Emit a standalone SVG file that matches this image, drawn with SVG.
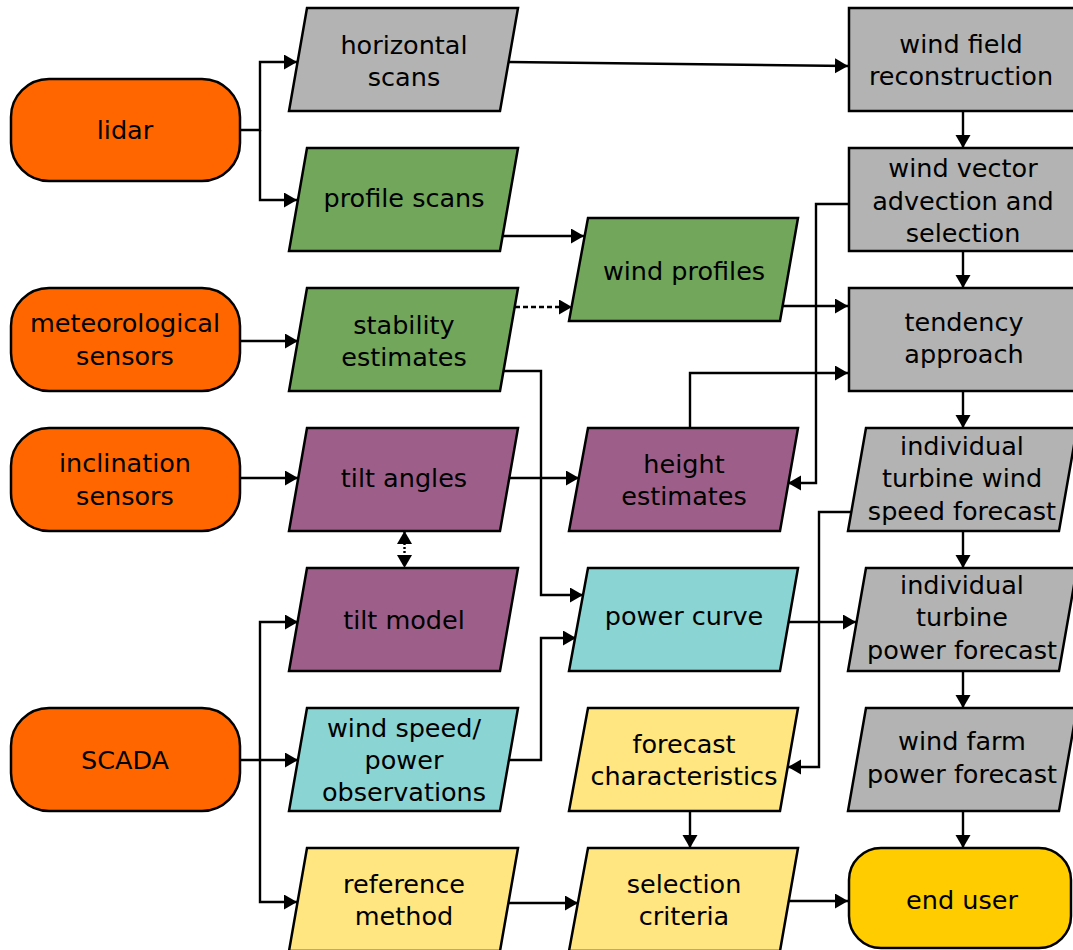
<svg xmlns="http://www.w3.org/2000/svg" width="1073" height="950" viewBox="0 0 1073 950">
<defs>
<marker id="ah" markerUnits="userSpaceOnUse" markerWidth="14" markerHeight="16" refX="13" refY="7.5" orient="auto-start-reverse" viewBox="0 0 14 16">
<path d="M0,0 L13,7.5 L0,15 z" fill="#000"/>
</marker>
<style>
.n{stroke:#000;stroke-width:2.5;stroke-linejoin:miter}
.src{fill:#FF6600}
.gray{fill:#B3B3B3}
.green{fill:#71A65B}
.purple{fill:#9D5F8A}
.cyan{fill:#8AD4D3}
.yellow{fill:#FFE680}
.gold{fill:#FFCC00}
text{font-family:"DejaVu Sans","Verdana",sans-serif;font-size:25.5px;fill:#000;text-anchor:middle}
.c path,.c polyline,.c line{fill:none;stroke:#000;stroke-width:2.4;marker-end:url(#ah)}
</style>
</defs>
<g id="connectors" class="c">
<polyline points="240,130 260,130 260,62 297,62"/>
<polyline points="260,130 260,200 297,200" />
<line x1="509" y1="62" x2="848" y2="66"/>
<line x1="963" y1="111" x2="963" y2="148"/>
<line x1="502" y1="236" x2="584" y2="236"/>
<line x1="515" y1="307" x2="572" y2="307" stroke-dasharray="5,3"/>
<line x1="782" y1="306" x2="848" y2="306"/>
<polyline points="848,204 816,204 816,483 788,483"/>
<line x1="963" y1="251" x2="963" y2="288"/>
<polyline points="690,428 690,373 848,373"/>
<line x1="509" y1="478" x2="579" y2="478"/>
<polyline points="503,371 541,371 541,595 583,595"/>
<line x1="240" y1="341" x2="298" y2="341"/>
<line x1="240" y1="478" x2="298" y2="478"/>
<line x1="404.5" y1="531" x2="404.5" y2="568" stroke-dasharray="2,2" style="marker-start:url(#ah)"/>
<polyline points="240,760 260,760 260,622 298,622"/>
<line x1="260" y1="760" x2="298" y2="760"/>
<polyline points="260,760 260,902 297,902"/>
<polyline points="508,760 541,760 541,638 576,638"/>
<line x1="788" y1="622" x2="856" y2="622"/>
<polyline points="851,512 819,512 819,767 788,767"/>
<line x1="963" y1="391" x2="963" y2="428"/>
<line x1="963" y1="531" x2="963" y2="568"/>
<line x1="963" y1="671" x2="963" y2="708"/>
<line x1="963" y1="811" x2="963" y2="848"/>
<line x1="690" y1="811" x2="690" y2="848"/>
<line x1="509" y1="903" x2="578" y2="903"/>
<line x1="788" y1="901" x2="848" y2="901"/>
</g>
<g id="lidar"><rect class="n src" x="11" y="79" width="229" height="102" rx="38"/><text x="125" y="139">lidar</text></g>
<g id="meteorological-sensors"><rect class="n src" x="11" y="288" width="229" height="103" rx="38"/><text x="125" y="332">meteorological</text><text x="125" y="365">sensors</text></g>
<g id="inclination-sensors"><rect class="n src" x="11" y="428" width="229" height="103" rx="38"/><text x="125" y="472">inclination</text><text x="125" y="505">sensors</text></g>
<g id="scada"><rect class="n src" x="11" y="708" width="229" height="103" rx="38"/><text x="125" y="769">SCADA</text></g>

<g id="horizontal-scans"><polygon class="n gray" points="307,8 518,8 500,111 289,111"/><text x="404" y="54">horizontal</text><text x="404" y="86">scans</text></g>
<g id="profile-scans"><polygon class="n green" points="307,148 518,148 500,251 289,251"/><text x="404" y="207">profile scans</text></g>
<g id="stability-estimates"><polygon class="n green" points="307,288 518,288 500,391 289,391"/><text x="404" y="334">stability</text><text x="404" y="366">estimates</text></g>
<g id="tilt-angles"><polygon class="n purple" points="307,428 518,428 500,531 289,531"/><text x="404" y="487">tilt angles</text></g>
<g id="tilt-model"><polygon class="n purple" points="307,568 518,568 500,671 289,671"/><text x="404" y="629">tilt model</text></g>
<g id="wind-speed-power-observations"><polygon class="n cyan" points="307,708 518,708 500,811 289,811"/><text x="404" y="737">wind speed/</text><text x="404" y="769">power</text><text x="404" y="801">observations</text></g>
<g id="reference-method"><polygon class="n yellow" points="307,848 518,848 500,951 289,951"/><text x="404" y="893">reference</text><text x="404" y="925">method</text></g>

<g id="wind-profiles"><polygon class="n green" points="588,218 798,218 780,321 569,321"/><text x="684" y="280">wind profiles</text></g>
<g id="height-estimates"><polygon class="n purple" points="588,428 798,428 780,531 569,531"/><text x="684" y="473">height</text><text x="684" y="505">estimates</text></g>
<g id="power-curve"><polygon class="n cyan" points="588,568 798,568 780,671 569,671"/><text x="684" y="625">power curve</text></g>
<g id="forecast-characteristics"><polygon class="n yellow" points="588,708 798,708 780,811 569,811"/><text x="684" y="753">forecast</text><text x="684" y="785">characteristics</text></g>
<g id="selection-criteria"><polygon class="n yellow" points="588,848 798,848 780,951 569,951"/><text x="684" y="893">selection</text><text x="684" y="925">criteria</text></g>

<g id="wind-field-reconstruction"><rect class="n gray" x="849" y="8" width="230" height="103"/><text x="961" y="53">wind field</text><text x="961" y="85">reconstruction</text></g>
<g id="wind-vector-advection"><rect class="n gray" x="849" y="148" width="230" height="103"/><text x="963" y="177">wind vector</text><text x="963" y="210">advection and</text><text x="963" y="242">selection</text></g>
<g id="tendency-approach"><rect class="n gray" x="849" y="288" width="230" height="103"/><text x="964" y="331">tendency</text><text x="964" y="363">approach</text></g>
<g id="itwsf"><polygon class="n gray" points="866,428 1077,428 1059,531 848,531"/><text x="962" y="455">individual</text><text x="962" y="487">turbine wind</text><text x="962" y="520">speed forecast</text></g>
<g id="itpf"><polygon class="n gray" points="866,568 1077,568 1059,671 848,671"/><text x="962" y="594">individual</text><text x="962" y="626">turbine</text><text x="962" y="659">power forecast</text></g>
<g id="wfpf"><polygon class="n gray" points="866,708 1077,708 1059,811 848,811"/><text x="962" y="750">wind farm</text><text x="962" y="783">power forecast</text></g>
<g id="end-user"><rect class="n gold" x="849" y="848" width="222" height="100" rx="32"/><text x="962" y="909">end user</text></g>
</svg>
